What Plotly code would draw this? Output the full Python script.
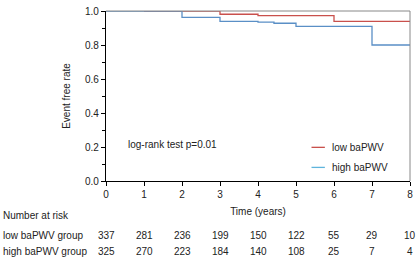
import plotly.graph_objects as go

low_t = [1, 3, 4, 6, 8]
low_s = [1.0, 0.981, 0.973, 0.939, 0.939]
high_t = [0, 2, 3, 4, 4.42, 5, 7, 8]
high_s = [1.0, 0.962, 0.939, 0.934, 0.928, 0.909, 0.80, 0.80]

risk_times = [0, 1, 2, 3, 4, 5, 6, 7, 8]
risk_low = [337, 281, 236, 199, 150, 122, 55, 29, 10]
risk_high = [325, 270, 223, 184, 140, 108, 25, 7, 4]
group_labels = ["low baPWV group", "high baPWV group"]
legend_labels = ["low baPWV", "high baPWV"]

RED = "#c9504c"
BLUE = "#5a8fc6"
LEG_BLUE = "#5fb4dc"
FONT = "Liberation Sans, Arial, sans-serif"

fig = go.Figure()
fig.add_trace(go.Scatter(x=low_t, y=low_s, mode="lines", line=dict(color=RED, width=1.3, shape="hv"),
                         showlegend=False))
fig.add_trace(go.Scatter(x=high_t, y=high_s, mode="lines", line=dict(color=BLUE, width=1.3, shape="hv"),
                         showlegend=False))

fig.update_layout(
    width=418, height=260,
    margin=dict(l=106, r=6, t=5, b=79),
    paper_bgcolor="white", plot_bgcolor="white",
    font=dict(family=FONT, size=10, color="#222"),
    xaxis=dict(range=[0, 8], tickvals=list(range(9)), showgrid=False, zeroline=False,
               showline=True, linecolor="black", linewidth=1.2, ticks="outside", ticklen=4,
               tickcolor="black", tickfont=dict(size=10), ticklabeloverflow="allow",
               title=dict(text="Time (years)", font=dict(size=10), standoff=8)),
    yaxis=dict(range=[0, 1.0], tickvals=[0, 0.2, 0.4, 0.6, 0.8, 1.0],
               ticktext=["0.0", "0.2", "0.4", "0.6", "0.8", "1.0"],
               showgrid=False, zeroline=False, ticklabeloverflow="allow",
               showline=True, linecolor="black", linewidth=1.2, ticks="outside", ticklen=4,
               tickcolor="black", tickfont=dict(size=10),
               minor=dict(tickvals=[0.1, 0.3, 0.5, 0.7, 0.9], ticks="outside", ticklen=3,
                          tickcolor="black"),
               title=dict(text="Event free rate", font=dict(size=10), standoff=12)),
)

# gray top and right frame
fig.add_shape(type="line", xref="paper", yref="paper", x0=0, x1=1, y0=1, y1=1,
              line=dict(color="#888", width=1))
fig.add_shape(type="line", xref="paper", yref="paper", x0=1, x1=1, y0=0, y1=1,
              line=dict(color="#888", width=1))

fig.add_annotation(x=0.065, y=0.215, xref="paper", yref="paper", text="log-rank test p=0.01",
                   showarrow=False, xanchor="left", yanchor="middle", font=dict(size=10))

# manual legend
for lab, col, yy in zip(legend_labels, [RED, LEG_BLUE], [0.198, 0.08]):
    fig.add_shape(type="line", xref="paper", yref="paper", x0=0.676, x1=0.72, y0=yy, y1=yy,
                  line=dict(color=col, width=1.3))
    fig.add_annotation(x=0.738, y=yy, xref="paper", yref="paper", text=lab, showarrow=False,
                       xanchor="left", yanchor="middle", font=dict(size=10))

# number at risk table
fig.add_annotation(x=-0.346, y=-0.205, xref="paper", yref="paper", text="Number at risk",
                   showarrow=False, xanchor="left", yanchor="middle", font=dict(size=10))
for lab, vals, yy in zip(group_labels, [risk_low, risk_high], [-0.318, -0.415]):
    fig.add_annotation(x=-0.346, y=yy, xref="paper", yref="paper", text=lab,
                       showarrow=False, xanchor="left", yanchor="middle", font=dict(size=10))
    for t, v in zip(risk_times, vals):
        fig.add_annotation(x=t, y=yy, xref="x", yref="paper", text=str(v), showarrow=False,
                           xanchor="center", yanchor="middle", font=dict(size=10))

fig.write_html("out.html", config={"displayModeBar": False},
               post_script="document.body.style.margin='0';document.body.style.overflow='hidden';")
